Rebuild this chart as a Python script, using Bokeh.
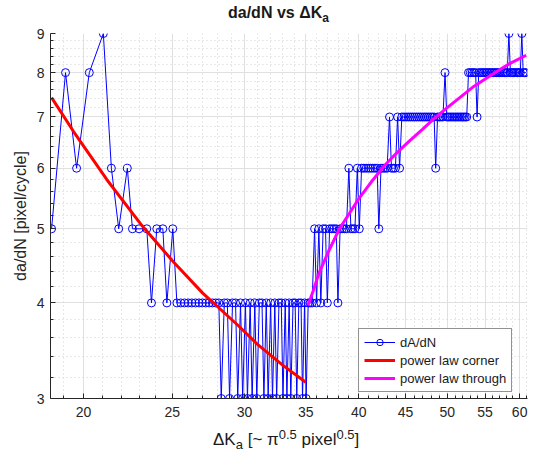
from bokeh.plotting import figure
from bokeh.layouts import column
from bokeh.models import FixedTicker, BasicTickFormatter, Legend, LegendItem, Div
from bokeh.embed import file_html
from bokeh.resources import INLINE

# Delta K_a values (x) and da/dN values (y)
dk = [18.45, 19.11, 19.65, 20.29, 21.02, 21.45, 21.85, 22.33, 22.62, 23.00, 23.45,
      23.73, 24.05, 24.42, 24.67, 25.04, 25.30,
      25.55, 25.79, 26.03, 26.27, 26.51, 26.75, 26.98, 27.21, 27.44, 27.67, 27.9, 28.12,
      28.29, 28.51, 28.73, 28.89, 29.11, 29.33, 29.49, 29.7, 29.86, 30.07, 30.22, 30.43,
      30.58, 30.79, 30.94, 31.14, 31.35, 31.5, 31.69, 31.84, 32.04, 32.19, 32.38, 32.53,
      32.72, 32.91, 33.05, 33.24, 33.38, 33.57, 33.71, 33.9, 34.08, 34.22, 34.4, 34.59,
      34.72, 34.9, 35.04, 35.22, 35.39, 35.57, 35.79, 35.97, 36.18, 36.36, 36.57, 36.79,
      36.96, 37.17, 37.38, 37.59, 37.8, 37.96, 38.17, 38.37, 38.58, 38.78, 39.02, 39.22,
      39.42, 39.62, 39.86, 40.06, 40.29, 40.52, 40.76, 40.99, 41.22, 41.44, 41.67, 41.9,
      42.08, 42.31, 42.53, 42.75, 42.97, 43.23, 43.44, 43.66, 43.87, 44.12, 44.34, 44.59,
      44.83, 45.08, 45.32, 45.56, 45.8, 46.04, 46.28, 46.52, 46.75, 46.99, 47.22, 47.45,
      47.68, 47.91, 48.14, 48.37, 48.56, 48.79, 49.02, 49.24, 49.46, 49.72, 49.94, 50.16,
      50.37, 50.59, 50.81, 51.03, 51.24, 51.45, 51.67, 51.88, 52.09, 52.3, 52.51, 52.75,
      52.99, 53.23, 53.46, 53.7, 53.9, 54.13, 54.36, 54.59, 54.82, 55.05, 55.28, 55.51,
      55.73, 55.96, 56.18, 56.41, 56.63, 56.85, 57.07, 57.29, 57.51, 57.73, 57.94, 58.16,
      58.4, 58.62, 58.83, 59.05, 59.26, 59.47, 59.68, 59.89, 60.1, 60.33, 60.54, 60.75,
      60.96]
dadn = [5, 8, 6, 8, 9, 6, 5, 6, 5, 5, 5, 4, 5, 5, 4, 5, 4,
        4, 4, 4, 4, 4, 4, 4, 4, 4, 4, 4, 4, 3,
        4, 4, 3, 4, 4, 3, 4, 3, 4, 3, 4, 3, 4, 3, 4, 4, 3, 4, 3, 4, 3, 4, 3,
        4, 4, 3, 4, 3, 4, 3, 4, 4, 3, 4, 4, 3, 4, 3,
        4, 4, 4, 5, 4, 5, 4, 5, 5, 4,
        5, 5, 5, 5, 4, 5, 5, 5, 5, 6, 5, 5, 5, 6,
        5, 6, 6, 6, 6, 6, 6, 6, 6, 5,
        6, 6, 6, 6, 7, 6, 6, 6, 7, 6, 7,
        7, 7, 7, 7, 7, 7, 7, 7, 7, 7, 7, 7, 7, 7, 7, 7,
        6, 7, 7, 7, 7, 8,
        7, 7, 7, 7, 7, 7, 7, 7, 7, 7, 7, 7, 7,
        8, 8, 8, 8, 8, 7,
        8, 8, 8, 8, 8, 8, 8, 8, 8, 8, 8, 8, 8, 8, 8, 8, 8, 8, 8,
        9, 8, 8, 8, 8, 8, 8, 8, 8, 9, 8, 8, 8]

corner_k = [18.45, 19.5, 21.2, 23.1, 25.1, 27.0, 28.0, 29.5, 31.0, 33.0, 35.0]
corner_v = [7.42, 6.70, 5.80, 5.07, 4.52, 4.12, 3.96, 3.74, 3.53, 3.32, 3.15]
through_k = [35.2, 35.6, 36.2, 37.1, 38.1, 39.0, 40.0, 41.3, 42.7, 44.0, 45.5, 47.0,
             48.4, 50.0, 51.6, 53.5, 56.2, 58.5, 61.0]
through_v = [3.97, 4.12, 4.38, 4.68, 5.0, 5.22, 5.47, 5.76, 6.05, 6.28, 6.52, 6.75,
             6.97, 7.2, 7.42, 7.68, 7.98, 8.22, 8.43]

x_ticks = [20, 25, 30, 35, 40, 45, 50, 55, 60]
y_ticks = [3, 4, 5, 6, 7, 8, 9]
legend_labels = ["dA/dN", "power law corner", "power law through"]

FONT = "Liberation Sans"
p = figure(width=537, height=403, x_axis_type="log", y_axis_type="log",
           x_range=(18.4, 61.2), y_range=(3, 9), output_backend="svg",
           toolbar_location=None, min_border_left=50, min_border_right=10,
           min_border_top=10, min_border_bottom=28)
p.outline_line_color = None

p.xaxis.ticker = FixedTicker(ticks=x_ticks,
                             minor_ticks=[i for i in range(18, 62) if i not in x_ticks])
p.yaxis.ticker = FixedTicker(ticks=y_ticks,
                             minor_ticks=[round(3 + 0.2*i, 1) for i in range(31) if i % 5])
for ax in (p.xaxis[0], p.yaxis[0]):
    ax.formatter = BasicTickFormatter()
    ax.axis_line_color = "#262626"
    ax.major_tick_line_color = "#262626"
    ax.minor_tick_line_color = "#262626"
    ax.major_tick_in = 5
    ax.major_tick_out = 0
    ax.minor_tick_in = 3
    ax.minor_tick_out = 0
    ax.major_label_text_font = FONT
    ax.major_label_text_font_size = "14px"
    ax.major_label_text_color = "#262626"
p.xaxis.major_label_standoff = 8
p.yaxis.major_label_standoff = 6
p.yaxis.axis_label = "da/dN [pixel/cycle]"
p.yaxis.axis_label_text_font = FONT
p.yaxis.axis_label_text_font_size = "16px"
p.yaxis.axis_label_text_font_style = "normal"
p.yaxis.axis_label_text_color = "#262626"
p.yaxis.axis_label_standoff = 5
for g in (p.xgrid[0], p.ygrid[0]):
    g.grid_line_color = "#e0e0e0"
    g.minor_grid_line_color = "#d0d0d0"
    g.minor_grid_line_dash = "1 3"

l1 = p.line(dk, dadn, line_color="#0000ff", line_width=1)
s1 = p.scatter(dk, dadn, marker="circle", size=8, fill_color=None,
               line_color="#0000ff", line_width=1)
l2 = p.line(corner_k, corner_v, line_color="#ff0000", line_width=3)
l3 = p.line(through_k, through_v, line_color="#ff00ff", line_width=3)

leg = Legend(items=[LegendItem(label=legend_labels[0], renderers=[l1, s1]),
                    LegendItem(label=legend_labels[1], renderers=[l2]),
                    LegendItem(label=legend_labels[2], renderers=[l3])],
             location=(308, 6), padding=5, spacing=2, margin=0, glyph_width=31,
             glyph_height=16, label_height=16, label_standoff=5,
             label_text_font=FONT, label_text_font_size="13px", label_text_color="#1a1a1a",
             border_line_color="#262626", border_line_width=1, background_fill_alpha=1)
p.add_layout(leg)

title = Div(width=537, height=23, margin=0, text=(
    '<div style="margin-left:228px;margin-top:5px;white-space:nowrap;line-height:16px;'
    'font-family:\'Liberation Sans\',Arial,sans-serif;font-size:16px;font-weight:bold;'
    'color:#1a1a1a">da/dN vs ΔK<span style="position:relative;top:4px;font-size:12px">a</span>'
    '</div>'))
xlabel = Div(width=537, height=31, margin=0, text=(
    '<div style="margin-left:213px;margin-top:5px;white-space:nowrap;line-height:17px;'
    'font-family:\'Liberation Sans\',Arial,sans-serif;font-size:17px;color:#1a1a1a">'
    'ΔK<span style="position:relative;top:4px;font-size:13px">a</span>'
    ' [~ π<span style="position:relative;top:-6px;font-size:13px">0.5</span>'
    ' pixel<span style="position:relative;top:-6px;font-size:13px">0.5</span>]</div>'))

layout = column(title, p, xlabel, spacing=0)
open("out.html", "w").write(file_html(layout, INLINE))
